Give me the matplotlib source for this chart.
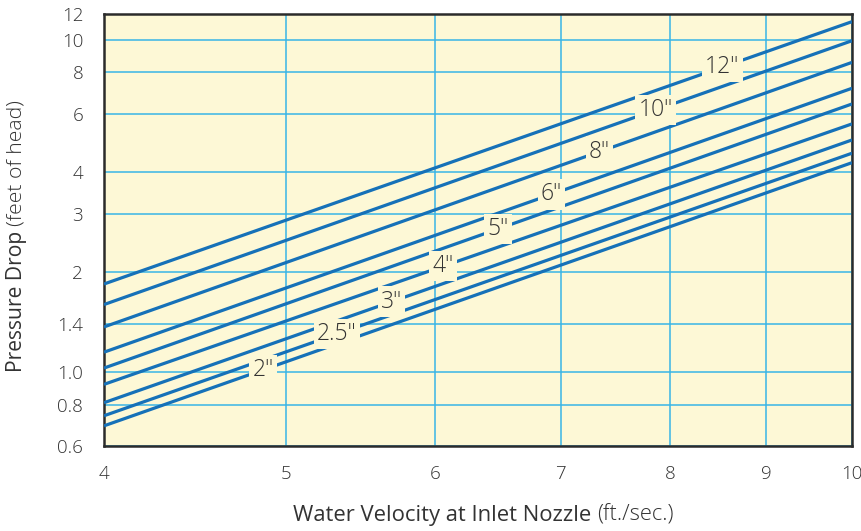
import numpy as np
import matplotlib
matplotlib.use("Agg")
import matplotlib.pyplot as plt
from matplotlib.ticker import FixedLocator, NullLocator

plt.rcParams['font.family'] = ['Open Sans', 'DejaVu Sans']

# pipe sizes and pressure drop read at v = 4 and v = 10 ft/sec (straight lines on log-log)
sizes = ['2"', '2.5"', '3"', '4"', '5"', '6"', '8"', '10"', '12"']
v_ends = [4, 10]
drop_at_4 = [0.69, 0.74, 0.81, 0.92, 1.03, 1.15, 1.37, 1.60, 1.845]
drop_at_10 = [4.28, 4.57, 5.01, 5.60, 6.43, 7.17, 8.58, 9.97, 11.38]
# velocity where each size label sits on its line
label_v = [4.86, 5.32, 5.69, 6.06, 6.48, 6.92, 7.34, 7.86, 8.53]

xticks = [4, 5, 6, 7, 8, 9, 10]
yticks = [0.6, 0.8, 1.0, 1.4, 2, 3, 4, 6, 8, 10, 12]
ytick_labels = ['0.6', '0.8', '1.0', '1.4', '2', '3', '4', '6', '8', '10', '12']

bg = '#fdf8d6'
line_col = '#1671b8'
grid_col = '#38b5e6'
text_col = '#333333'

fig = plt.figure(figsize=(8.61, 5.31), dpi=100)
ax = fig.add_axes([104/861, 1-446/531, 748/861, 432/531])
ax.set_facecolor(bg)
ax.set_xscale('log')
ax.set_yscale('log')
ax.set_xlim(4, 10)
ax.set_ylim(0.6, 12)

ax.xaxis.set_major_locator(FixedLocator(xticks))
ax.xaxis.set_minor_locator(NullLocator())
ax.set_xticklabels([str(t) for t in xticks], fontweight='light')
ax.yaxis.set_major_locator(FixedLocator(yticks))
ax.yaxis.set_minor_locator(NullLocator())
ax.set_yticklabels(ytick_labels, fontweight='light')
ax.tick_params(length=0, labelsize=13.5, labelcolor=text_col)
ax.tick_params(axis='x', pad=14)
ax.tick_params(axis='y', pad=15)

ax.grid(True, color=grid_col, linewidth=1.1)
ax.set_axisbelow(True)
for s in ax.spines.values():
    s.set_color('#2b2b2b')
    s.set_linewidth(1.8)

for i, name in enumerate(sizes):
    ys = [drop_at_4[i], drop_at_10[i]]
    ax.plot(v_ends, ys, color=line_col, lw=2.3, solid_capstyle='butt', zorder=3)
    # position label on the line (log-log straight line)
    t = np.log(label_v[i] / 4) / np.log(10 / 4)
    ly = np.exp(np.log(ys[0]) + t * (np.log(ys[1]) - np.log(ys[0])))
    ax.text(label_v[i], ly, name, ha='center', va='center', fontsize=16.5,
            color=text_col, zorder=4, fontweight='light',
            bbox=dict(boxstyle='square,pad=0.14', fc=bg, ec='none'))

fig.text(591/861, 1-515/531, 'Water Velocity at Inlet Nozzle', ha='right', va='center',
         fontsize=15.8, color=text_col)
fig.text(597/861, 1-515/531, '(ft./sec.)', ha='left', va='center',
         fontsize=15.8, color=text_col, fontweight='light')
fig.text(17/861, 1-231/531, 'Pressure Drop', ha='center', va='top', rotation=90,
         fontsize=15.2, color=text_col)
fig.text(17/861, 1-226/531, '(feet of head)', ha='center', va='bottom', rotation=90,
         fontsize=15.2, color=text_col, fontweight='light')

fig.savefig('out.png', dpi=100, facecolor='white')
